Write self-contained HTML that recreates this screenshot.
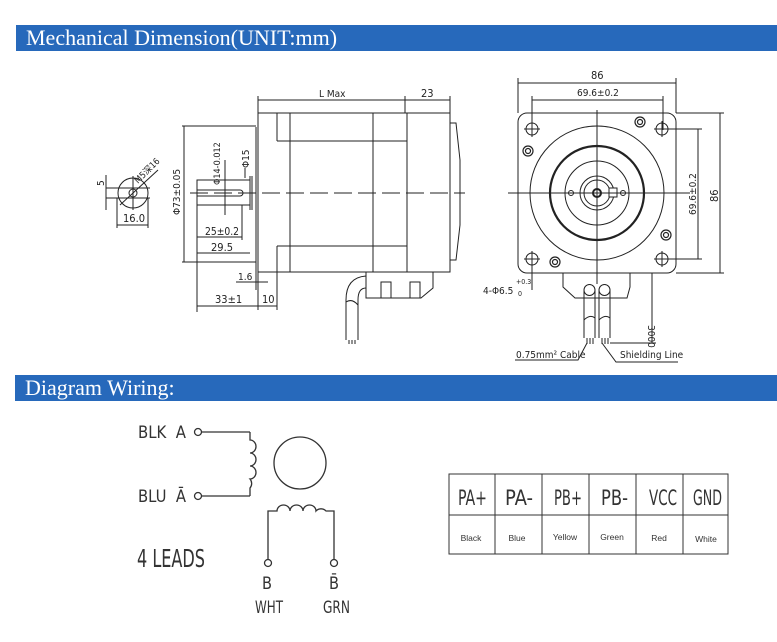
<!DOCTYPE html>
<html><head><meta charset="utf-8"><style>
html,body{margin:0;padding:0;background:#fff;}
body{width:777px;height:642px;overflow:hidden;position:relative;}
.bar{position:absolute;left:16px;right:0;height:26px;background:#2769bb;color:#fff;font-family:"Liberation Serif",serif;font-size:22px;line-height:26px;padding-left:10px;}
svg{position:absolute;left:0;top:0;}
</style></head><body>
<div class="bar" style="top:25px;">Mechanical Dimension(UNIT:mm)</div>
<div class="bar" style="top:375px;left:15px;">Diagram Wiring:</div>
<svg width="777" height="642" viewBox="0 0 777 642" font-family="Liberation Sans, sans-serif" fill="none" stroke="#222" stroke-width="1">
<g>
<rect x="258" y="113" width="192" height="159"/>
<line x1="277" y1="113" x2="277" y2="141"/><line x1="277" y1="246" x2="277" y2="272"/>
<line x1="290" y1="113" x2="290" y2="272"/>
<line x1="373" y1="113" x2="373" y2="272"/>
<line x1="407" y1="113" x2="407" y2="272"/>
<line x1="277" y1="141" x2="407" y2="141"/><line x1="277" y1="246" x2="407" y2="246"/>
<polyline points="450,123 456,123 460,160 460,225 456,260 450,260"/>
<line x1="256" y1="127" x2="256" y2="262"/>
<line x1="182" y1="126" x2="256" y2="126"/><line x1="182" y1="262" x2="256" y2="262"/>
<line x1="184" y1="126" x2="184" y2="262"/>
<rect x="197" y="180" width="53" height="25"/>
<path d="M197 190 H240 A3 3 0 0 1 240 196 H197"/>
<line x1="250" y1="176" x2="250" y2="210"/><line x1="252" y1="176" x2="252" y2="210"/>
<line x1="190" y1="193" x2="465" y2="193" stroke-dasharray="18,6"/>
<line x1="225" y1="160" x2="225" y2="215"/>
<line x1="245" y1="168" x2="245" y2="178"/>
<line x1="197" y1="205" x2="197" y2="312"/>
<line x1="197" y1="237" x2="242" y2="237"/><line x1="242" y1="205" x2="242" y2="240"/>
<line x1="197" y1="253" x2="250" y2="253"/>
<line x1="197" y1="306" x2="277" y2="306"/>
<line x1="258" y1="272" x2="258" y2="310"/><line x1="277" y1="272" x2="277" y2="310"/>
<line x1="236" y1="282" x2="268" y2="282"/><line x1="256" y1="262" x2="256" y2="290"/>
<line x1="258" y1="100" x2="450" y2="100"/>
<line x1="258" y1="96" x2="258" y2="113"/><line x1="405" y1="96" x2="405" y2="113"/><line x1="450" y1="96" x2="450" y2="113"/>
<polyline points="366,272 366,298 421,298 433,288 433,272"/>
<rect x="381" y="282" width="10" height="16"/><rect x="410" y="282" width="10" height="16"/>
<path d="M366,276 C352,277 346,286 346,300 V340 M366,288 C361,288 358,292 358,300 V340"/>
<path d="M346,302 Q352,298 358,305"/>
<line x1="349" y1="340" x2="349" y2="344"/><line x1="352" y1="340" x2="352" y2="344"/><line x1="355" y1="340" x2="355" y2="344"/>
<circle cx="133" cy="193" r="15"/>
<circle cx="133" cy="193" r="4"/>
<line x1="106" y1="188" x2="150" y2="188"/><line x1="106" y1="198" x2="150" y2="198"/>
<line x1="133" y1="176" x2="133" y2="210"/>
<line x1="120" y1="205" x2="158" y2="170"/>
<line x1="106" y1="175" x2="106" y2="210"/>
<line x1="117" y1="198" x2="117" y2="228"/><line x1="148" y1="198" x2="148" y2="228"/>
<line x1="117" y1="225" x2="148" y2="225"/>
</g>
<g fill="#222" stroke="none" font-size="11" font-family="DejaVu Sans Condensed, sans-serif">
<text x="319" y="97" font-size="10">L Max</text>
<text x="421" y="97">23</text>
<text x="205" y="235" textLength="34" lengthAdjust="spacingAndGlyphs">25±0.2</text>
<text x="211" y="251">29.5</text>
<text x="215" y="303">33±1</text>
<text x="262" y="303">10</text>
<text x="238" y="280" font-size="10">1.6</text>
<text x="123" y="222">16.0</text>
<text transform="translate(180,215) rotate(-90)" font-size="10">Φ73±0.05</text>
<text transform="translate(220,185) rotate(-90)" font-size="9">Φ14-0.012</text>
<text transform="translate(249,168) rotate(-90)" font-size="10">Φ15</text>
<text transform="translate(104,186) rotate(-90)" font-size="10">5</text>
<text transform="translate(138,184) rotate(-45)" font-size="9">M5深16</text>
</g>
<g>
<rect x="518" y="113" width="158" height="160" rx="9"/>
<line x1="518" y1="78" x2="518" y2="113"/><line x1="676" y1="78" x2="676" y2="113"/>
<line x1="518" y1="83" x2="676" y2="83"/>
<line x1="532" y1="96" x2="532" y2="130"/><line x1="663" y1="96" x2="663" y2="130"/>
<line x1="532" y1="100" x2="663" y2="100"/>
<circle cx="597" cy="193" r="67"/>
<circle cx="597" cy="193" r="47" stroke-width="2.2"/>
<circle cx="597" cy="193" r="32"/>
<circle cx="597" cy="193" r="17"/><circle cx="597" cy="193" r="13"/>
<circle cx="597" cy="193" r="4" stroke-width="2"/>
<rect x="609" y="188" width="8" height="9" fill="#fff"/>
<circle cx="571" cy="193" r="2.5"/><circle cx="623" cy="193" r="2.5"/>
<line x1="508" y1="193" x2="690" y2="193"/>
<line x1="597" y1="110" x2="597" y2="284"/>
<circle cx="532" cy="129" r="6"/><circle cx="662" cy="129" r="6"/><circle cx="532" cy="259" r="6"/><circle cx="662" cy="259" r="6"/>
<path d="M524 129h16M532 121v16M654 129h16M662 121v16M524 259h16M532 251v16M654 259h16M662 251v16"/>
<g stroke-width="1.2">
<circle cx="640" cy="122" r="5"/><circle cx="528" cy="151" r="5"/><circle cx="666" cy="235" r="5"/><circle cx="555" cy="262" r="5"/>
<circle cx="640" cy="122" r="2.5"/><circle cx="528" cy="151" r="2.5"/><circle cx="666" cy="235" r="2.5"/><circle cx="555" cy="262" r="2.5"/>
</g>
<line x1="668" y1="129" x2="702" y2="129"/><line x1="668" y1="259" x2="702" y2="259"/>
<line x1="698" y1="129" x2="698" y2="259"/>
<line x1="676" y1="113" x2="724" y2="113"/><line x1="676" y1="273" x2="724" y2="273"/>
<line x1="720" y1="113" x2="720" y2="273"/>
<polyline points="563,273 563,287 575,298 627,298 630,287 630,273"/>
<path d="M584,338 V290 M595,338 V290 M599,338 V290 M610,338 V290"/>
<circle cx="589.5" cy="290" r="5.5"/><circle cx="604.5" cy="290" r="5.5"/>
<path d="M584 320 Q590 314 595 318 M599 320 Q605 314 610 318"/>
<line x1="652" y1="273" x2="652" y2="343"/><line x1="610" y1="343" x2="656" y2="343"/>
<line x1="532" y1="265" x2="532" y2="290"/>
<polyline points="515,360 578,360 587,343"/>
<polyline points="602,343 616,362 678,362"/>
<path d="M587 338v6M590 338v6M593 338v6M602 338v6M605 338v6M608 338v6"/>
</g>
<g fill="#222" stroke="none" font-size="11" font-family="DejaVu Sans Condensed, sans-serif">
<text x="591" y="79">86</text>
<text x="577" y="96" font-size="10">69.6±0.2</text>
<text transform="translate(696,215) rotate(-90)" font-size="10">69.6±0.2</text>
<text transform="translate(718,202) rotate(-90)">86</text>
<text transform="translate(648,325) rotate(90)" font-size="10">3000</text>
<text x="483" y="294" font-size="10">4-Φ6.5</text>
<text x="516" y="284" font-size="7">+0.3</text>
<text x="518" y="296" font-size="7">0</text>
<text x="516" y="358" font-size="10">0.75mm² Cable</text>
<text x="620" y="358" font-size="10">Shielding Line</text>
</g>
<g stroke="#333" stroke-width="1.3">
<circle cx="198" cy="432" r="3.5"/><circle cx="198" cy="496" r="3.5"/>
<line x1="202" y1="432" x2="250" y2="432"/><line x1="202" y1="496" x2="250" y2="496"/>
<path d="M250 432 V440 a6 6.5 0 0 1 0 13 a6 6.5 0 0 1 0 13 a6 6.5 0 0 1 0 13 a6 6.5 0 0 1 0 9 V496"/>
<circle cx="300" cy="463" r="26"/>
<path d="M268 560 V511 H277 a6.5 6 0 0 1 13 0 a6.5 6 0 0 1 13 0 a6.5 6 0 0 1 13 0 a6.5 6 0 0 1 10 0 H334 V560"/>
<circle cx="268" cy="563" r="3.5"/><circle cx="334" cy="563" r="3.5"/>
</g>
<g fill="#333" stroke="none" font-family="DejaVu Sans Condensed, Liberation Sans, sans-serif">
<text x="138" y="438" font-size="17" textLength="48" lengthAdjust="spacingAndGlyphs">BLK&#160; A</text>
<text x="138" y="502" font-size="17" textLength="48" lengthAdjust="spacingAndGlyphs">BLU&#160; Ā</text>
<text x="137" y="567" font-size="25" textLength="68" lengthAdjust="spacingAndGlyphs">4 LEADS</text>
<text x="262" y="589" font-size="17" textLength="10" lengthAdjust="spacingAndGlyphs">B</text>
<text x="329" y="589" font-size="17" textLength="10" lengthAdjust="spacingAndGlyphs">B̄</text>
<text x="255" y="613" font-size="17" textLength="28" lengthAdjust="spacingAndGlyphs">WHT</text>
<text x="323" y="613" font-size="17" textLength="27" lengthAdjust="spacingAndGlyphs">GRN</text>
</g>
<g stroke="#333" stroke-width="1">
<rect x="449" y="474" width="279" height="80"/>
<line x1="449" y1="515" x2="728" y2="515"/>
<line x1="495" y1="474" x2="495" y2="554"/><line x1="542" y1="474" x2="542" y2="554"/>
<line x1="589" y1="474" x2="589" y2="554"/><line x1="636" y1="474" x2="636" y2="554"/>
<line x1="683" y1="474" x2="683" y2="554"/>
</g>
<g fill="#333" stroke="none" font-family="DejaVu Sans Condensed, Liberation Sans, sans-serif">
<g font-size="21">
<text x="458" y="505" textLength="29" lengthAdjust="spacingAndGlyphs">PA+</text>
<text x="505" y="505" textLength="28" lengthAdjust="spacingAndGlyphs">PA-</text>
<text x="554" y="505" textLength="28" lengthAdjust="spacingAndGlyphs">PB+</text>
<text x="601" y="505" textLength="27" lengthAdjust="spacingAndGlyphs">PB-</text>
<text x="649" y="505" textLength="28" lengthAdjust="spacingAndGlyphs">VCC</text>
<text x="693" y="505" textLength="29" lengthAdjust="spacingAndGlyphs">GND</text>
</g>
<g font-size="8.5" font-family="Liberation Sans, sans-serif" text-anchor="middle">
<text x="471" y="541">Black</text><text x="517" y="541">Blue</text><text x="565" y="540">Yellow</text>
<text x="612" y="540">Green</text><text x="659" y="541">Red</text><text x="706" y="542">White</text>
</g>
</g>
</svg>
</body></html>
